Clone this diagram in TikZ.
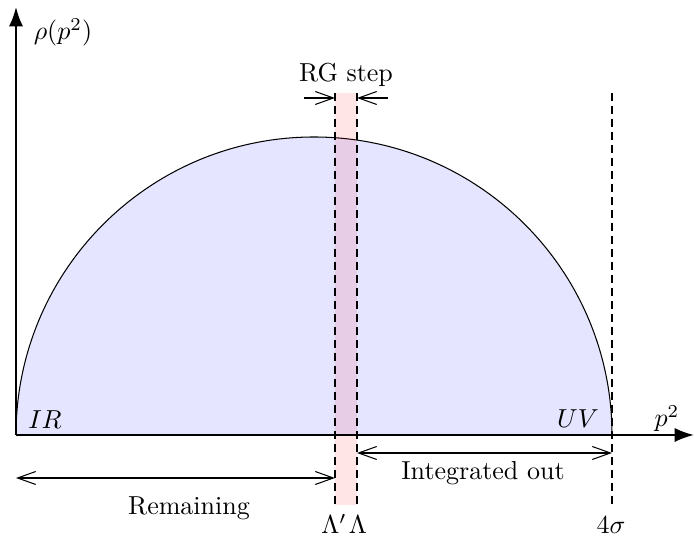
\documentclass[tikz,border=0pt]{standalone}
\usetikzlibrary{arrows.meta}
\begin{document}
\begin{tikzpicture}[x=0.3847pt,y=0.3847pt,
  axis/.style={thick,-{Latex[length=7.5pt,width=5.5pt]}},
  cut/.style={thick,dash pattern=on 3pt off 2pt},
  span/.style={thin,{Straight Barb[length=7pt,width=5pt]}-{Straight Barb[length=7pt,width=5pt]}},
  tip/.style={thin,-{Straight Barb[length=7pt,width=5pt]}},
  lbl/.style={inner sep=0.5pt,anchor=base}]
\useasboundingbox (0,0) rectangle (694,536);
% coordinates
\coordinate (O) at (16,101);
\coordinate (Ytip) at (16,529);
\coordinate (Xtip) at (694,101);
% semicircle
\fill[blue!10] (O) arc[start angle=180,end angle=0,radius=298] -- cycle;
\draw[thin] (O) arc[start angle=180,end angle=0,radius=298];
% RG step band
\fill[red,opacity=0.1] (335,31) rectangle (357,443);
% cut lines
\coordinate (Lpt) at (335,443); \coordinate (Lpb) at (335,31);
\coordinate (Lt) at (357,443);  \coordinate (Lb) at (357,31);
\coordinate (St) at (612,443);  \coordinate (Sb) at (612,31);
\draw[cut] (Lpt) -- (Lpb);
\draw[cut] (Lt) -- (Lb);
\draw[cut] (St) -- (Sb);
% axes
\draw[axis] (O) -- (Ytip);
\draw[axis] (O) -- (Xtip);
% RG step arrows
\coordinate (ga) at (304,438); \coordinate (gb) at (335,438);
\coordinate (gc) at (388,438); \coordinate (gd) at (357,438);
\draw[tip] (ga) -- (gb);
\draw[tip] (gc) -- (gd);
\node[lbl] (rg) at (346,454) {RG step};
% span arrows
\coordinate (ra) at (16,58); \coordinate (rb) at (335,58);
\draw[span] (ra) -- (rb);
\node[lbl] (rem) at (189,21) {Remaining};
\coordinate (ia) at (357,83); \coordinate (ib) at (612,83);
\draw[span] (ia) -- (ib);
\node[lbl] (int) at (483,56) {Integrated out};
% labels
\node[lbl] (ir) at (45,107) {$IR$};
\node[lbl] (uv) at (578,108) {$UV$};
\node[lbl] (p2) at (667,109) {$p^2$};
\node[lbl] (rho) at (63,496) {$\rho(p^2)$};
\node[lbl] (lp) at (334,2) {$\Lambda'$};
\node[lbl] (l) at (358,2) {$\Lambda$};
\node[lbl] (s) at (611,2) {$4\sigma$};
\end{tikzpicture}
\end{document}
